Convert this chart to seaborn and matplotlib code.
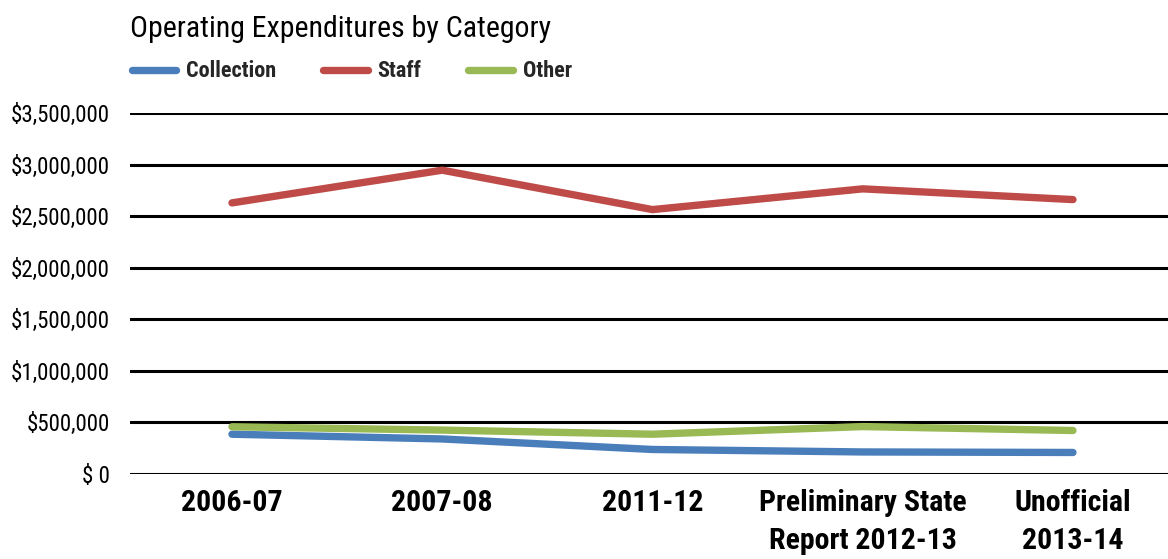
import matplotlib
matplotlib.use("Agg")
import matplotlib.pyplot as plt
import matplotlib.font_manager as fm
import matplotlib.transforms as mtransforms
import seaborn as sns
import pandas as pd
from matplotlib.ticker import FixedLocator

categories = ["2006-07", "2007-08", "2011-12", "Preliminary State\nReport 2012-13", "Unofficial\n2013-14"]
collection = [386000, 340000, 238000, 214000, 209000]
staff = [2628000, 2945000, 2563000, 2764000, 2660000]
other = [458000, 426000, 386000, 460000, 422000]
series_names = ["Collection", "Staff", "Other"]
y_ticks = [0, 500000, 1000000, 1500000, 2000000, 2500000, 3000000, 3500000]
y_tick_labels = ["$ 0", "$500,000", "$1,000,000", "$1,500,000", "$2,000,000",
                 "$2,500,000", "$3,000,000", "$3,500,000"]

sns.set_theme(style="white")
plt.rcParams["font.family"] = ["DejaVu Sans"]


def _wnum(w):
    if isinstance(w, (int, float)):
        return int(w)
    return {"normal": 400, "regular": 400, "book": 400, "medium": 500,
            "semibold": 600, "demibold": 600, "bold": 700, "heavy": 800,
            "black": 900, "light": 300}.get(str(w).lower(), 400)


def find_condensed():
    cands = {}
    for f in fm.fontManager.ttflist:
        low = (f.fname + " " + f.name).lower()
        st = str(f.stretch).lower()
        is_cond = ("condensed" in st or "narrow" in low or "condensed" in low) \
            and "extra" not in low and "ultra" not in low and "semi" not in low
        if not is_cond or f.style != "normal":
            continue
        cands.setdefault(f.name, []).append((abs(_wnum(f.weight) - 400), abs(_wnum(f.weight) - 700), f.fname))
    prefs = ["Liberation Sans Narrow", "Roboto Condensed", "Open Sans Condensed",
             "Noto Sans", "Noto Sans Condensed", "DejaVu Sans", "DejaVu Sans Condensed"]
    order = [p for p in prefs if p in cands] + [k for k in cands if k not in prefs]
    for fam in order:
        lst = cands[fam]
        reg = min(lst, key=lambda t: t[0])
        bold = min(lst, key=lambda t: t[1])
        if reg[0] <= 100 and bold[1] <= 100:
            return reg[2], bold[2]
    return None, None


reg_path, bold_path = find_condensed()


def fp(size, bold=False):
    if reg_path is not None:
        return fm.FontProperties(fname=bold_path if bold else reg_path, size=size)
    return fm.FontProperties(family="DejaVu Sans", size=size * 0.85,
                             weight="bold" if bold else "normal")


rows = []
for name, vals in zip(series_names, [collection, staff, other]):
    for i, v in enumerate(vals):
        rows.append({"cat": i, "value": v, "series": name})
df = pd.DataFrame(rows)

palette = {"Collection": "#4A7EBB", "Staff": "#BE4B48", "Other": "#98B954"}

fig = plt.figure(figsize=(11.68, 5.59), dpi=100)
ax = fig.add_axes([0.1113, 0.152, 0.8887, 0.646])

for g in y_ticks:
    ax.axhline(g, color="black", lw=2.2, zorder=1)

sns.lineplot(data=df, x="cat", y="value", hue="series", hue_order=series_names,
             palette=palette, linewidth=5.3, ax=ax, zorder=3,
             solid_capstyle="round", legend=True)

ax.set_xlim(-0.485, 4.452)
ax.set_ylim(0, 3500000)
ax.yaxis.set_major_locator(FixedLocator(y_ticks))
ax.set_yticklabels(y_tick_labels, color="black")
for lab in ax.get_yticklabels():
    lab.set_fontproperties(fp(16.5))
ax.set_xticks(range(len(categories)))
ax.set_xticklabels(categories, color="black", linespacing=1.42, va="top")
shift = mtransforms.ScaledTranslation(0.08, 0, fig.dpi_scale_trans)
for lab in ax.get_xticklabels():
    lab.set_fontproperties(fp(21.5, bold=True))
    lab.set_transform(lab.get_transform() + shift)
ax.tick_params(axis="x", length=0, pad=11)
ax.tick_params(axis="y", length=0, pad=14.5)
ax.set_xlabel("")
ax.set_ylabel("")
for s in ax.spines.values():
    s.set_visible(False)

handles, labels = ax.get_legend_handles_labels()
leg = ax.legend(handles, labels, loc="upper left", bbox_to_anchor=(0.113, 0.892),
                bbox_transform=fig.transFigure, ncol=3, frameon=False,
                prop=fp(16, bold=True),
                handlelength=2.0, handletextpad=0.45, columnspacing=2.1,
                borderaxespad=0, borderpad=0)
for ln in leg.get_lines():
    ln.set_linewidth(5.3)
    ln.set_solid_capstyle("round")

fig.text(0.1113, 0.948, "Operating Expenditures by Category",
         fontproperties=fp(21.5), color="black", ha="left", va="center")

fig.savefig("out.png", dpi=100, facecolor="white")
